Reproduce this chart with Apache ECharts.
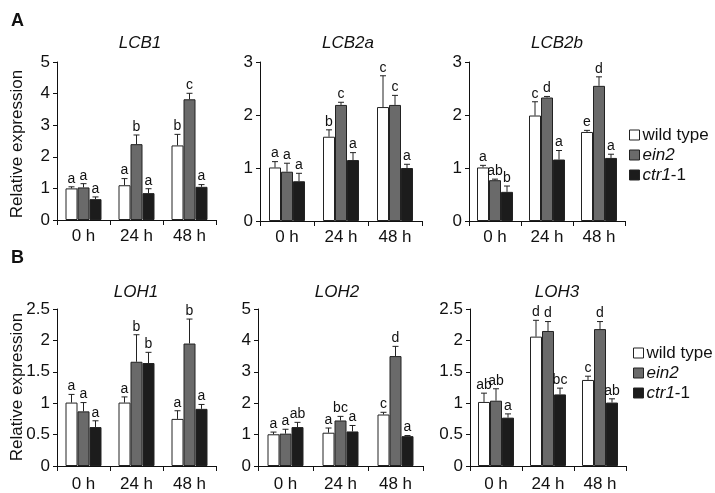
<!DOCTYPE html>
<html><head><meta charset="utf-8">
<script src="https://cdn.jsdelivr.net/npm/echarts@6/dist/echarts.min.js"></script>
<style>html,body{margin:0;padding:0;background:#fff}#c{width:715px;height:493px}</style>
</head><body><div id="c"></div>
<script>
const categories = ['0 h', '24 h', '48 h'];
const genotypes = ['wild type', 'ein2', 'ctr1-1'];
const panelNames = ['LCB1', 'LCB2a', 'LCB2b', 'LOH1', 'LOH2', 'LOH3'];
const yMax = [5, 3, 3, 2.5, 5, 2.5];
const yStep = [1, 1, 1, 0.5, 1, 0.5];

// means per genotype [wild type, ein2, ctr1-1], each over categories
const LCB1_mean = [[1.00, 1.10, 2.36], [1.03, 2.40, 3.82], [0.66, 0.85, 1.05]];
const LCB1_sd   = [[0.05, 0.21, 0.35], [0.12, 0.29, 0.19], [0.07, 0.14, 0.07]];
const LCB1_sig  = [['a', 'a', 'b'], ['a', 'b', 'c'], ['a', 'a', 'a']];

const LCB2a_mean = [[1.01, 1.59, 2.15], [0.93, 2.19, 2.19], [0.75, 1.15, 1.00]];
const LCB2a_sd   = [[0.11, 0.13, 0.59], [0.16, 0.05, 0.18], [0.15, 0.14, 0.07]];
const LCB2a_sig  = [['a', 'b', 'c'], ['a', 'c', 'c'], ['a', 'a', 'a']];

const LCB2b_mean = [[1.01, 1.99, 1.68], [0.77, 2.33, 2.55], [0.55, 1.16, 1.19]];
const LCB2b_sd   = [[0.04, 0.26, 0.03], [0.02, 0.02, 0.17], [0.11, 0.17, 0.07]];
const LCB2b_sig  = [['a', 'c', 'e'], ['ab', 'd', 'd'], ['b', 'a', 'a']];

const LOH1_mean = [[1.01, 1.01, 0.75], [0.87, 1.66, 1.95], [0.62, 1.64, 0.91]];
const LOH1_sd   = [[0.13, 0.09, 0.13], [0.14, 0.43, 0.39], [0.10, 0.17, 0.07]];
const LOH1_sig  = [['a', 'a', 'a'], ['a', 'b', 'b'], ['a', 'b', 'a']];

const LOH2_mean = [[1.01, 1.06, 1.64], [1.03, 1.45, 3.50], [1.24, 1.10, 0.95]];
const LOH2_sd   = [[0.07, 0.15, 0.07], [0.14, 0.13, 0.31], [0.15, 0.19, 0.02]];
const LOH2_sig  = [['a', 'a', 'c'], ['a', 'bc', 'd'], ['ab', 'a', 'a']];

const LOH3_mean = [[1.02, 2.06, 1.37], [1.04, 2.15, 2.18], [0.77, 1.14, 1.01]];
const LOH3_sd   = [[0.14, 0.26, 0.06], [0.19, 0.15, 0.12], [0.06, 0.10, 0.06]];
const LOH3_sig  = [['ab', 'd', 'c'], ['ab', 'd', 'd'], ['a', 'bc', 'ab']];

const means = [LCB1_mean, LCB2a_mean, LCB2b_mean, LOH1_mean, LOH2_mean, LOH3_mean];
const sds = [LCB1_sd, LCB2a_sd, LCB2b_sd, LOH1_sd, LOH2_sd, LOH3_sd];
const sigs = [LCB1_sig, LCB2a_sig, LCB2b_sig, LOH1_sig, LOH2_sig, LOH3_sig];

// layout
const FONT = 'Liberation Sans, Arial, Helvetica, sans-serif';
const INK = '#111';
const BAR_W = 12;
const fills = ['#ffffff', '#6a6a6a', '#1c1c1c'];
const grids = [
  {left: 57, top: 62, width: 159, height: 158},
  {left: 260, top: 62, width: 162, height: 159},
  {left: 469, top: 62, width: 156, height: 159},
  {left: 57, top: 309, width: 159, height: 159},
  {left: 258, top: 309, width: 165, height: 159},
  {left: 470, top: 309, width: 156, height: 159}
];
const titlePos = [[140, 43], [348, 43], [557, 43], [136, 292], [337, 292], [557, 292]];

const xAxes = [], yAxes = [], series = [], graphics = [];
grids.forEach((g, p) => {
  xAxes.push({
    type: 'category', gridIndex: p, data: categories, boundaryGap: true,
    axisLine: {lineStyle: {color: INK, width: 1}},
    axisTick: {show: true, length: 5, lineStyle: {color: INK}},
    axisLabel: {color: INK, fontSize: 17, fontFamily: FONT, margin: p < 3 ? 8 : 10}
  });
  yAxes.push({
    type: 'value', gridIndex: p, min: 0, max: yMax[p], interval: yStep[p],
    splitLine: {show: false},
    axisLine: {show: true, lineStyle: {color: INK, width: 1}},
    axisTick: {show: true, length: 4, lineStyle: {color: INK}},
    axisLabel: {color: INK, fontSize: 17, fontFamily: FONT, margin: 7}
  });
  genotypes.forEach((name, k) => {
    series.push({
      type: 'bar', name: name, xAxisIndex: p, yAxisIndex: p,
      data: means[p][k], barWidth: BAR_W, barGap: '0%',
      itemStyle: {color: fills[k], borderColor: '#222', borderWidth: 1},
      emphasis: {disabled: true}, animation: false
    });
  });
  const errData = [];
  for (let k = 0; k < 3; k++) for (let c = 0; c < 3; c++) errData.push([c, k, means[p][k][c], sds[p][k][c]]);
  series.push({
    type: 'custom', xAxisIndex: p, yAxisIndex: p, z: 5, animation: false, silent: true,
    encode: {x: 0, y: 2},
    data: errData,
    renderItem: (params, api) => {
      const c = api.value(0), k = api.value(1), m = api.value(2), e = api.value(3);
      const b = api.coord([c, m]);
      const t = api.coord([c, m + e]);
      const x = b[0] + (k - 1) * BAR_W;
      const letter = sigs[p][k][c];
      return {
        type: 'group',
        children: [
          {type: 'line', shape: {x1: x, y1: b[1], x2: x, y2: t[1]}, style: {stroke: '#222', lineWidth: 1}},
          {type: 'line', shape: {x1: x - 3, y1: t[1], x2: x + 3, y2: t[1]}, style: {stroke: '#222', lineWidth: 1}},
          {type: 'text', x: x, y: t[1] - 1, style: {text: letter, textAlign: 'center', textVerticalAlign: 'bottom', fontSize: 14, fontFamily: FONT, fill: INK}}
        ]
      };
    }
  });
  graphics.push({
    type: 'text', x: titlePos[p][0], y: titlePos[p][1],
    style: {text: panelNames[p], textAlign: 'center', textVerticalAlign: 'middle', fontSize: 17, fontStyle: 'italic', fontFamily: FONT, fill: INK}
  });
});

graphics.push({type: 'text', x: 11, y: 21, style: {text: 'A', textAlign: 'left', textVerticalAlign: 'middle', fontSize: 18, fontWeight: 'bold', fontFamily: FONT, fill: INK}});
graphics.push({type: 'text', x: 11, y: 258, style: {text: 'B', textAlign: 'left', textVerticalAlign: 'middle', fontSize: 18, fontWeight: 'bold', fontFamily: FONT, fill: INK}});
[144, 387].forEach(yc => {
  graphics.push({type: 'text', x: 17, y: yc, rotation: Math.PI / 2,
    style: {text: 'Relative expression', textAlign: 'center', textVerticalAlign: 'middle', fontSize: 17, fontFamily: FONT, fill: INK}});
});

const legendFmt = name => name === 'ein2' ? '{i|ein2}' : (name === 'ctr1-1' ? '{i|ctr1}-1' : name);
const legendBase = {
  orient: 'vertical', data: genotypes, icon: 'rect', itemWidth: 10, itemHeight: 10, itemGap: 0,
  selectedMode: false, padding: 0, formatter: legendFmt,
  itemStyle: {borderColor: '#222', borderWidth: 1},
  textStyle: {fontSize: 17, fontFamily: FONT, color: INK, lineHeight: 20, padding: [0, 0, 0, -2],
    rich: {i: {fontSize: 17, fontStyle: 'italic', fontFamily: FONT, color: INK}}}
};

const chart = echarts.init(document.getElementById('c'), null, {renderer: 'canvas'});
chart.setOption({
  animation: false,
  backgroundColor: '#fff',
  grid: grids,
  xAxis: xAxes,
  yAxis: yAxes,
  series: series,
  legend: [
    Object.assign({}, legendBase, {left: 629, top: 125}),
    Object.assign({}, legendBase, {left: 633, top: 343})
  ],
  graphic: graphics
});
</script></body></html>
